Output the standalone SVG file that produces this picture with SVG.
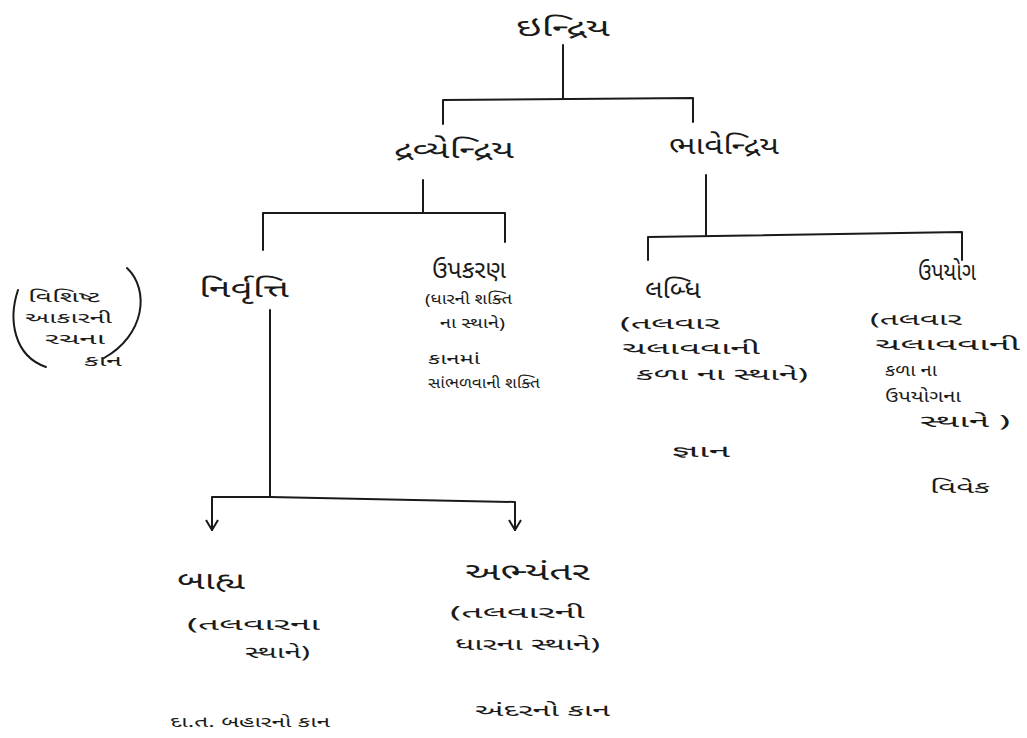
<svg xmlns="http://www.w3.org/2000/svg" width="1027" height="738" viewBox="0 0 1027 738">
<defs>
<style>
text{font-family:"Noto Sans Gujarati","Lohit Gujarati","Shruti","Noto Sans","DejaVu Sans",sans-serif;fill:#1a1a1a}
.h{font-size:24px}
.s{font-size:17px}
.t{font-size:15px}
.ln{stroke:#1a1a1a;stroke-width:2;fill:none;stroke-linecap:round;stroke-linejoin:round}
</style>
<marker id="ar" viewBox="0 0 14 14" refX="13" refY="7" markerWidth="14" markerHeight="14" orient="auto" markerUnits="userSpaceOnUse">
<path d="M3,1 L13,7 L3,13" fill="none" stroke="#1a1a1a" stroke-width="2"/>
</marker>
</defs>
<rect width="1027" height="738" fill="#fff"/>
<g id="connectors">
<path class="ln" d="M563,45 V99"/>
<path class="ln" d="M443,124 V100 L693,98 V122"/>
<path class="ln" d="M423,180 V213"/>
<path class="ln" d="M263,250 V213 H505 V242"/>
<path class="ln" d="M706,175 V236"/>
<path class="ln" d="M648,260 V237 L962,232 V260"/>
<path class="ln" d="M270,310 V497"/>
<path class="ln" d="M270,497 H212 V530" marker-end="url(#ar)"/>
<path class="ln" d="M270,497 L515,502 V530" marker-end="url(#ar)"/>
</g>
<g id="n-indriya"><text class="h" x="516" y="36" textLength="94" lengthAdjust="spacingAndGlyphs">ઇન્દ્રિય</text></g>
<g id="n-dravyendriya"><text class="h" x="394" y="158" textLength="120" lengthAdjust="spacingAndGlyphs">દ્રવ્યેન્દ્રિય</text></g>
<g id="n-bhavendriya"><text class="h" x="669" y="154" textLength="110" lengthAdjust="spacingAndGlyphs">ભાવેન્દ્રિય</text></g>
<g id="n-nirvrutti"><text class="h" x="199" y="297" textLength="90" lengthAdjust="spacingAndGlyphs">નિર્વૃત્તિ</text></g>
<g id="n-vishisht">
<path class="ln" d="M18,290 C8,320 14,356 46,367"/>
<path class="ln" d="M127,268 C150,290 145,335 104,358"/>
<text class="t" x="28" y="302" textLength="72" lengthAdjust="spacingAndGlyphs">વિશિષ્ટ</text>
<text class="t" x="25" y="323" textLength="87" lengthAdjust="spacingAndGlyphs">આકારની</text>
<text class="t" x="45" y="344" textLength="60" lengthAdjust="spacingAndGlyphs">રચના</text>
<text class="t" x="84" y="366" textLength="38" lengthAdjust="spacingAndGlyphs">કાન</text>
</g>
<g id="n-upakaran">
<text class="h" x="432" y="278" textLength="74" lengthAdjust="spacingAndGlyphs">ઉપકરણ</text>
<text class="t" x="425" y="304" textLength="87" lengthAdjust="spacingAndGlyphs">(ધારની શક્તિ</text>
<text class="t" x="440" y="328" textLength="65" lengthAdjust="spacingAndGlyphs">ના સ્થાને)</text>
<text class="t" x="428" y="364" textLength="52" lengthAdjust="spacingAndGlyphs">કાનમાં</text>
<text class="t" x="428" y="388" textLength="112" lengthAdjust="spacingAndGlyphs">સાંભળવાની શક્તિ</text>
</g>
<g id="n-labdhi">
<text class="h" x="645" y="298" textLength="56" lengthAdjust="spacingAndGlyphs">લબ્ધિ</text>
<text class="s" x="620" y="329" textLength="100" lengthAdjust="spacingAndGlyphs">(તલવાર</text>
<text class="s" x="622" y="354" textLength="138" lengthAdjust="spacingAndGlyphs">ચલાવવાની</text>
<text class="s" x="636" y="380" textLength="172" lengthAdjust="spacingAndGlyphs">કળા ના સ્થાને)</text>
<text class="s" x="672" y="457" textLength="58" lengthAdjust="spacingAndGlyphs">જ્ઞાન</text>
</g>
<g id="n-upayog">
<text class="h" x="918" y="280" textLength="58" lengthAdjust="spacingAndGlyphs">ઉપયોગ</text>
<text class="s" x="870" y="325" textLength="92" lengthAdjust="spacingAndGlyphs">(તલવાર</text>
<text class="s" x="875" y="350" textLength="145" lengthAdjust="spacingAndGlyphs">ચલાવવાની</text>
<text class="s" x="885" y="376" textLength="52" lengthAdjust="spacingAndGlyphs">કળા ના</text>
<text class="s" x="885" y="402" textLength="76" lengthAdjust="spacingAndGlyphs">ઉપયોગના</text>
<text class="s" x="920" y="427" textLength="90" lengthAdjust="spacingAndGlyphs">સ્થાને )</text>
<text class="s" x="930" y="493" textLength="60" lengthAdjust="spacingAndGlyphs">વિવેક</text>
</g>
<g id="n-bahya">
<text class="h" x="177" y="589" textLength="68" lengthAdjust="spacingAndGlyphs">બાહ્ય</text>
<text class="s" x="187" y="630" textLength="133" lengthAdjust="spacingAndGlyphs">(તલવારના</text>
<text class="s" x="245" y="658" textLength="65" lengthAdjust="spacingAndGlyphs">સ્થાને)</text>
<text class="t" x="170" y="727" textLength="160" lengthAdjust="spacingAndGlyphs">દા.ત. બહારનો કાન</text>
</g>
<g id="n-abhyantar">
<text class="h" x="465" y="580" textLength="125" lengthAdjust="spacingAndGlyphs">અભ્યંતર</text>
<text class="s" x="450" y="618" textLength="135" lengthAdjust="spacingAndGlyphs">(તલવારની</text>
<text class="s" x="455" y="650" textLength="145" lengthAdjust="spacingAndGlyphs">ધારના સ્થાને)</text>
<text class="s" x="475" y="716" textLength="135" lengthAdjust="spacingAndGlyphs">અંદરનો કાન</text>
</g>
</svg>
